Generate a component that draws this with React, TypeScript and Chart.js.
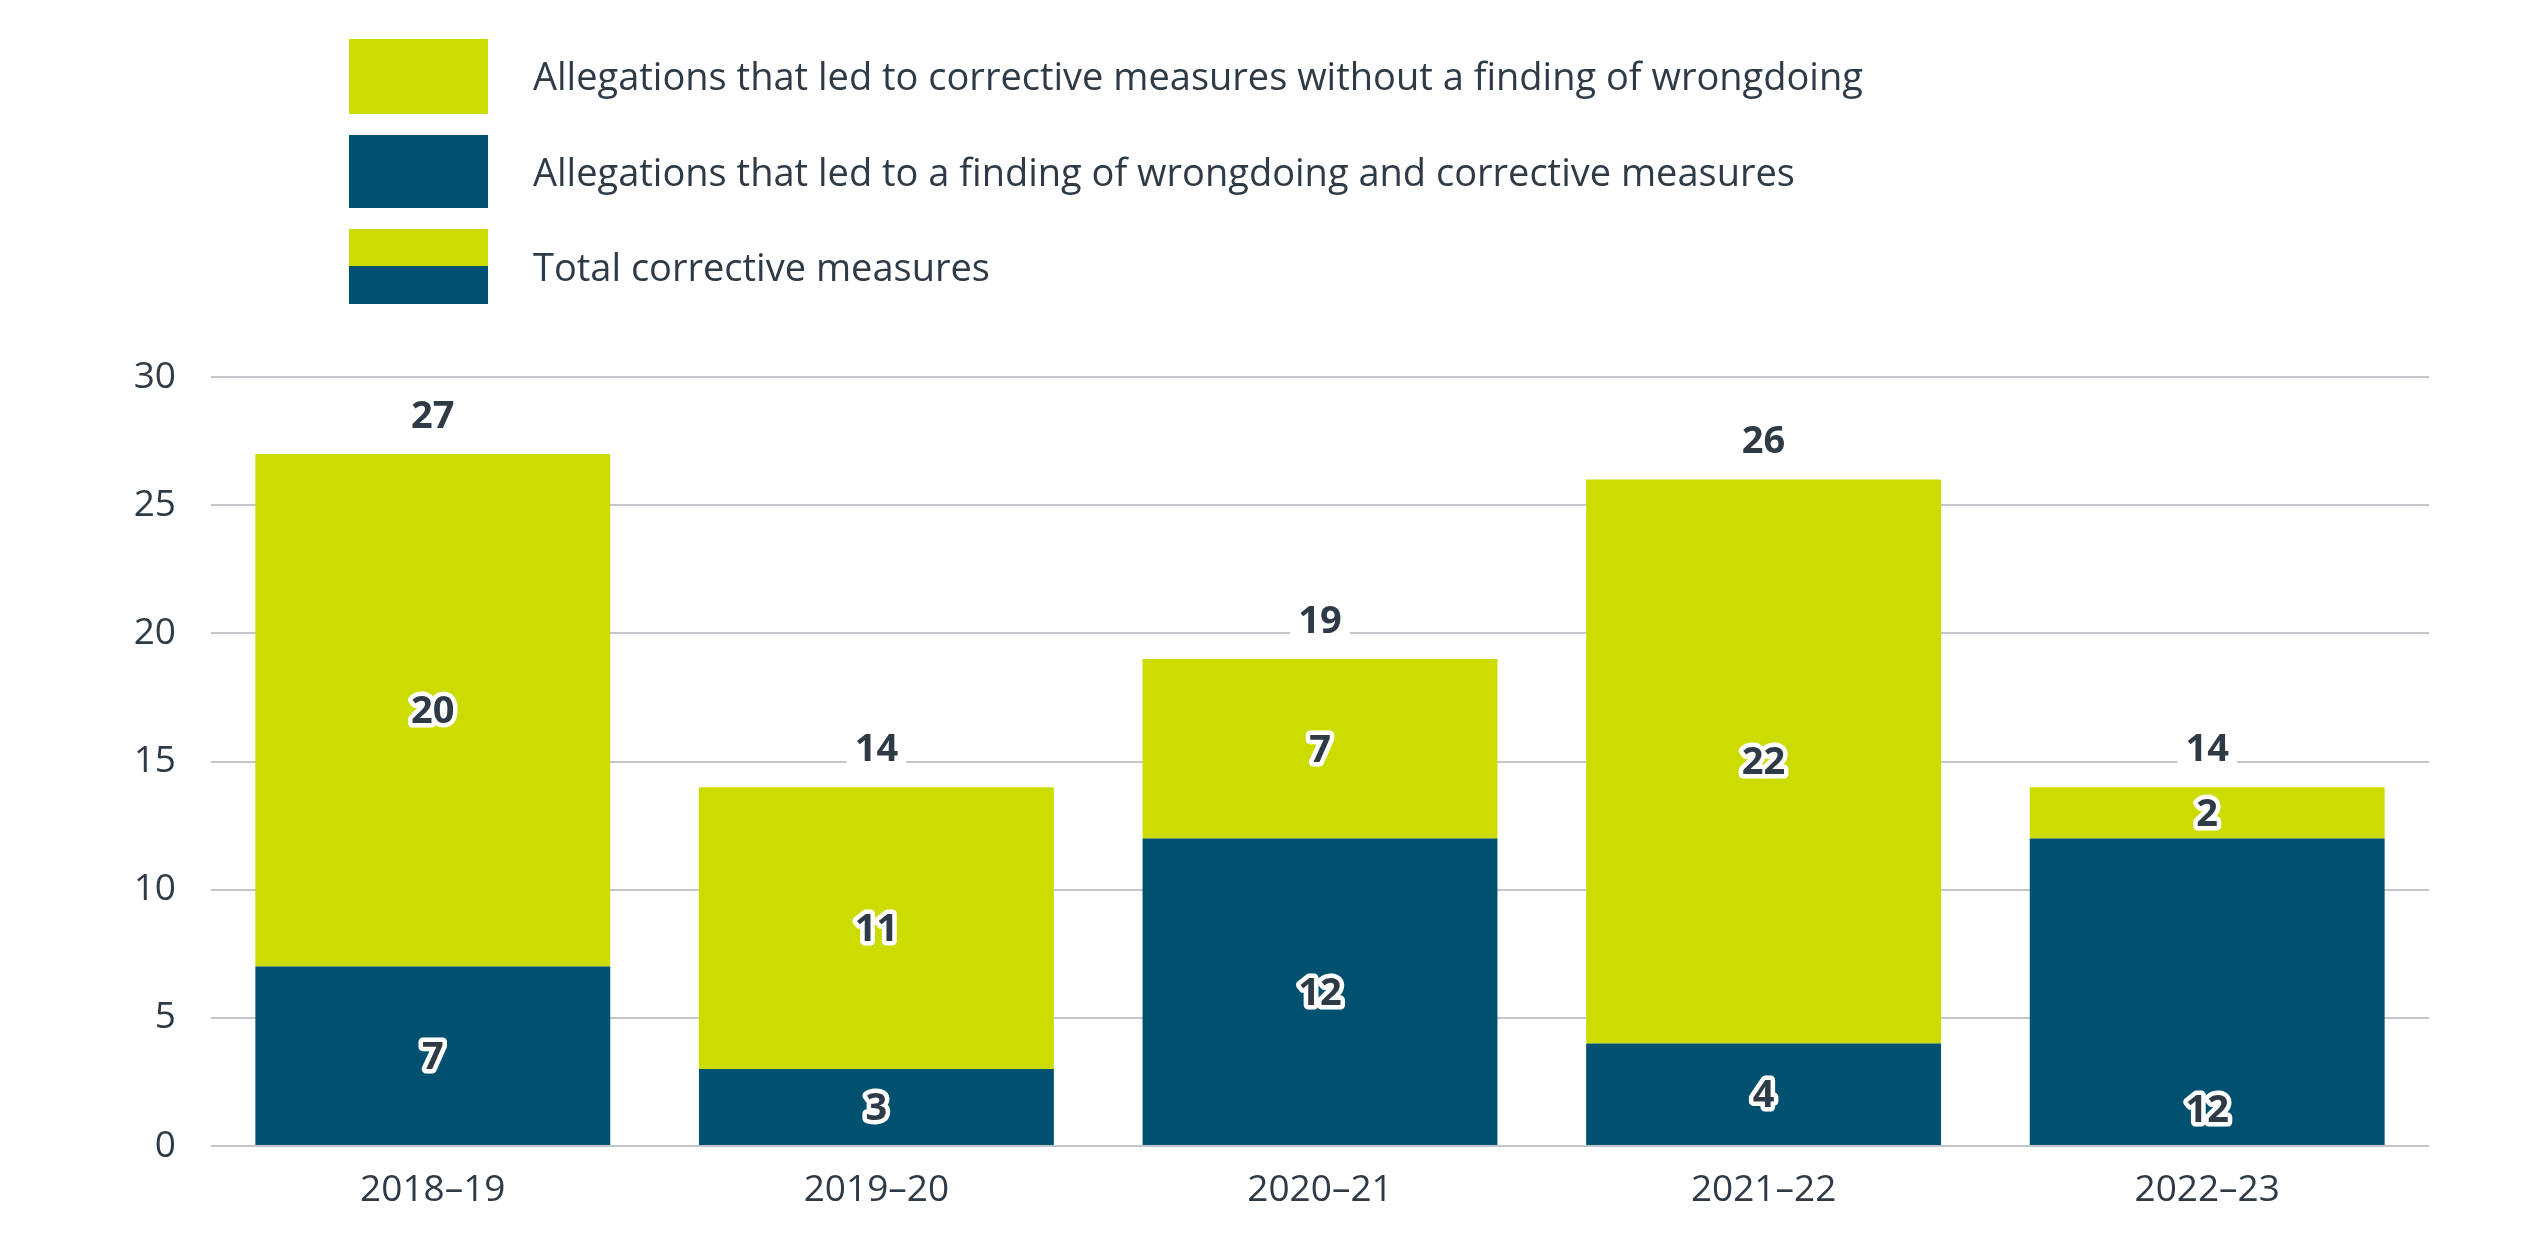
import React, { useEffect, useRef } from "react";
import { Chart, registerables } from "chart.js";

Chart.register(...registerables);

const categories = ["2018–19", "2019–20", "2020–21", "2021–22", "2022–23"];
const withoutFinding = [20, 11, 7, 22, 2];
const withFinding = [7, 3, 12, 4, 12];
const withFindingLabelAnchor = ["center", "center", "center", "center", "start"];
const yMin = 0;
const yMax = 30;
const yStep = 5;

const legendWithout = "Allegations that led to corrective measures without a finding of wrongdoing";
const legendWith = "Allegations that led to a finding of wrongdoing and corrective measures";
const legendTotal = "Total corrective measures";

const LIME = "#CDDC00";
const TEAL = "#00506F";
const TEXT = "#2E3A46";
const GRID = "#C2C6CB";
const FONT = "'Open Sans', sans-serif";

const W = 2548;
const H = 1238;

const labelsPlugin = {
  id: "barLabels",
  afterDatasetsDraw(chart: any) {
    const ctx = chart.ctx;
    const ys = chart.scales.y;
    const xs = chart.scales.x;
    ctx.save();
    ctx.font = `700 38px ${FONT}`;
    ctx.textAlign = "center";
    ctx.textBaseline = "middle";
    ctx.lineJoin = "round";
    chart.data.datasets.forEach((ds: any, di: number) => {
      const meta = chart.getDatasetMeta(di);
      meta.data.forEach((bar: any, i: number) => {
        const p = bar.getProps(["x", "y", "base"], true);
        const anchor = di === 0 ? withFindingLabelAnchor[i] : "center";
        const cy = anchor === "start" ? p.base - 36 : (p.y + p.base) / 2;
        const txt = String(ds.data[i]);
        ctx.lineWidth = 9;
        ctx.strokeStyle = "#ffffff";
        ctx.strokeText(txt, p.x, cy + 2);
        ctx.fillStyle = TEXT;
        ctx.fillText(txt, p.x, cy + 2);
      });
    });
    categories.forEach((_c, i) => {
      const total = withFinding[i] + withoutFinding[i];
      const x = xs.getPixelForValue(i);
      const cy = ys.getPixelForValue(total) - 39;
      const txt = String(total);
      const w = ctx.measureText(txt).width;
      ctx.fillStyle = "#ffffff";
      ctx.fillRect(x - w / 2 - 8, cy - 22, w + 16, 44);
      ctx.fillStyle = TEXT;
      ctx.fillText(txt, x, cy + 2);
    });
    ctx.restore();
  },
};

export default function App() {
  const canvasRef = useRef<HTMLCanvasElement | null>(null);

  useEffect(() => {
    document.body.style.margin = "0";
    document.body.style.overflow = "hidden";
    const canvas = canvasRef.current;
    if (!canvas) return;
    const chart = new Chart(canvas, {
      type: "bar",
      data: {
        labels: categories,
        datasets: [
          {
            label: legendWith,
            data: withFinding,
            backgroundColor: TEAL,
            borderWidth: 0,
            barPercentage: 0.8,
            categoryPercentage: 1,
          },
          {
            label: legendWithout,
            data: withoutFinding,
            backgroundColor: LIME,
            borderWidth: 0,
            barPercentage: 0.8,
            categoryPercentage: 1,
          },
        ],
      },
      options: {
        animation: false,
        responsive: true,
        maintainAspectRatio: false,
        devicePixelRatio: 1,
        layout: { padding: { top: 377, left: 0, right: 119, bottom: 0 } },
        plugins: {
          legend: { display: false },
          tooltip: { enabled: false },
        },
        scales: {
          x: {
            stacked: true,
            grid: { display: false, drawTicks: false },
            border: { display: false },
            ticks: {
              color: TEXT,
              font: { family: FONT, size: 37 },
              padding: 22,
            },
            afterFit(scale: any) {
              scale.height = H - 1146;
            },
          },
          y: {
            stacked: true,
            min: yMin,
            max: yMax,
            grid: { color: GRID, lineWidth: 2, drawTicks: false },
            border: { display: false },
            ticks: {
              stepSize: yStep,
              color: TEXT,
              font: { family: FONT, size: 37 },
              padding: 35,
            },
            afterFit(scale: any) {
              scale.width = 211;
            },
          },
        },
      },
      plugins: [labelsPlugin],
    });
    return () => chart.destroy();
  }, []);

  const textStyle = (top: number): React.CSSProperties => ({
    position: "absolute",
    left: 533,
    top,
    height: 74,
    lineHeight: "74px",
    fontFamily: FONT,
    fontSize: 38,
    color: TEXT,
    whiteSpace: "nowrap",
  });

  return (
    <div style={{ position: "relative", width: W, height: H, background: "#fff" }}>
      <canvas ref={canvasRef} style={{ position: "absolute", left: 0, top: 0 }} />
      <div style={{ position: "absolute", inset: 0, pointerEvents: "none" }}>
        <div style={{ position: "absolute", left: 349, top: 39, width: 139, height: 75, background: LIME }} />
        <div style={textStyle(38)}>{legendWithout}</div>
        <div style={{ position: "absolute", left: 349, top: 135, width: 139, height: 73, background: TEAL }} />
        <div style={textStyle(134)}>{legendWith}</div>
        <div style={{ position: "absolute", left: 349, top: 229, width: 139, height: 75 }}>
          <div style={{ height: 37, background: LIME }} />
          <div style={{ height: 38, background: TEAL }} />
        </div>
        <div style={textStyle(229)}>{legendTotal}</div>
      </div>
    </div>
  );
}
